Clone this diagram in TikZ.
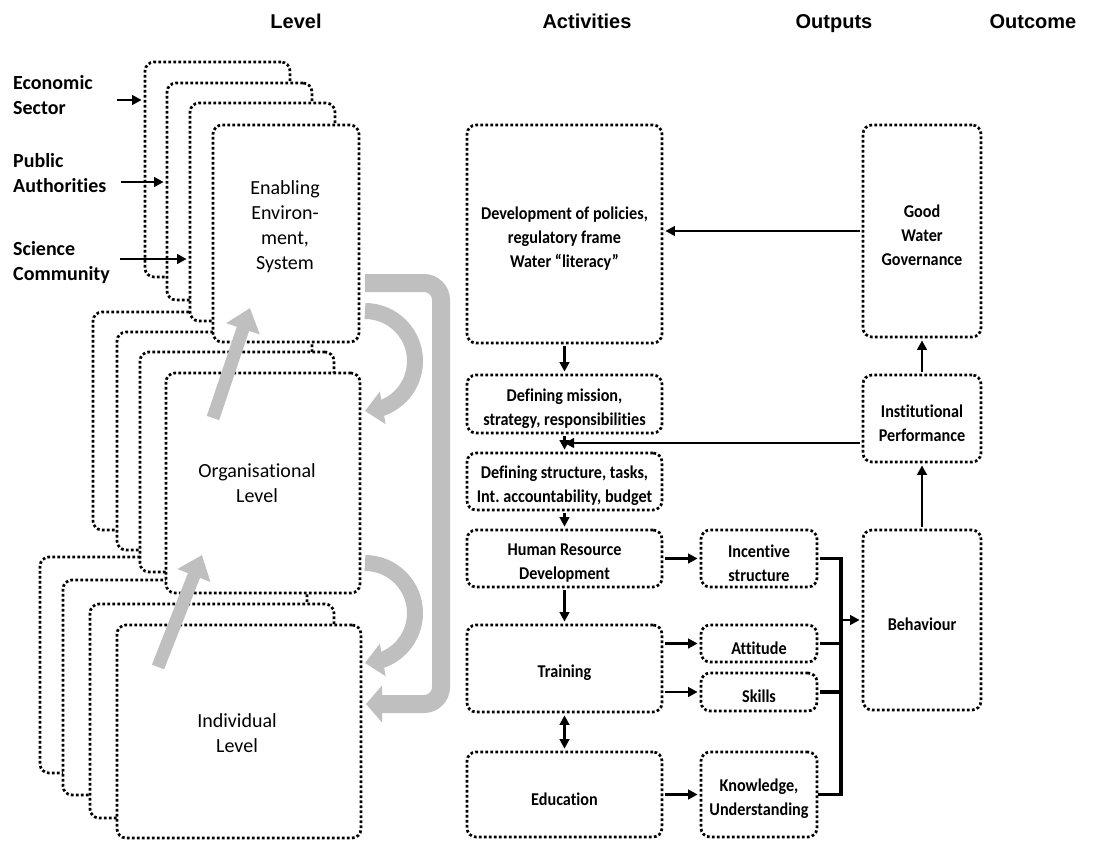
\documentclass[tikz,border=0pt]{standalone}
\usepackage{fontspec}
\setmainfont{Carlito}[Ligatures=NoCommon]
\newfontfamily\boxfont{Carlito}[FakeStretch=0.9, Ligatures=NoCommon]
\newfontfamily\headfont{Liberation Sans}
\usetikzlibrary{arrows.meta,fit,calc,bending}
\definecolor{flowgray}{RGB}{191,191,191}
\frenchspacing
\begin{document}
\begin{tikzpicture}[x=1pt,y=-1pt,
  dotbox/.style={draw=black, fill=white, line width=2.7pt, dash pattern=on 2.7pt off 2.3pt,
    rounded corners=9pt, inner sep=0pt, align=center},
  boxtext/.style={align=center, yshift=-4.5pt, inner sep=0pt, font=\boxfont\fontsize{18}{24}\selectfont\bfseries},
  act/.style={dotbox, label={[boxtext]center:{#1}}},
  lvl/.style={align=center, font=\fontsize{20}{25}\selectfont},
  side/.style={align=left, anchor=west, inner sep=0pt, font=\fontsize{20}{25}\selectfont\bfseries},
  head/.style={anchor=base, font=\headfont\bfseries\fontsize{20}{24}\selectfont},
  arr/.style={line width=2.5pt, shorten <=2pt, shorten >=2pt, -{Triangle[length=9.5pt,width=9.5pt]}},
  bus/.style={line width=3.5pt, shorten <=2pt},
  flow/.style={draw=flowgray, line width=#1},
]
\fill[white] (0,0) rectangle (1108,841);
\useasboundingbox (0,0) rectangle (1108,841);

% column headings
\node[head] (hLevel) at (296,28) {Level};
\node[head] (hAct) at (587,28) {Activities};
\node[head] (hOut) at (834,28) {Outputs};
\node[head] (hOutc) at (1033,28) {Outcome};

% individual level stack (back to front)
\node[dotbox, fit={(40,557) (284,773)}] (ind1) {};
\node[dotbox, fit={(63,580) (307,795)}] (ind2) {};
\node[dotbox, fit={(90,604) (334,818)}] (ind3) {};
\node[dotbox, fit={(117,625) (361,838)}] (ind4) {};
\node[lvl] (indtxt) at (237,733) {Individual\\Level};

% organisational level stack
\node[dotbox, fit={(93,312) (288,530)}] (org1) {};
\node[dotbox, fit={(117,332) (312,550)}] (org2) {};
\node[dotbox, fit={(140,352) (334,572)}] (org3) {};
\node[dotbox, fit={(166,373) (360,593)}] (org4) {};
\node[lvl] (orgtxt) at (257,483) {Organisational\\Level};

% enabling environment stack
\node[dotbox, fit={(145,62) (290,277)}] (env1) {};
\node[dotbox, fit={(167,83) (312,300)}] (env2) {};
\node[dotbox, fit={(190,103) (335,321)}] (env3) {};
\node[dotbox, fit={(213,125) (359,342)}] (env4) {};
\node[lvl] (envtxt) at (285,227) {Enabling\\Environ-\\ment,\\System};

% actors feeding the system level
\node[side] (econ) at (13,95) {Economic\\Sector};
\node[side] (pub) at (13,173) {Public\\Authorities};
\node[side] (sci) at (13,263) {Science\\Community};
\coordinate (econA) at (117,100);
\coordinate (pubA) at (121,182);
\coordinate (sciA) at (120,259);
\draw[arr, shorten <=0pt] (econA) -- (econA -| env1.west);
\draw[arr, shorten <=0pt] (pubA) -- (pubA -| env2.west);
\draw[arr, shorten <=0pt] (sciA) -- (sciA -| env3.west);

% grey flows between the levels
\coordinate (up1s) at (213,418);
\coordinate (up1e) at (250,308);
\coordinate (up2s) at (158,667);
\coordinate (up2e) at (202,555);
\draw[flow=13pt, -{Triangle[width=34pt,length=22pt]}] (up1s) -- (up1e);
\draw[flow=13pt, -{Triangle[width=34pt,length=22pt]}] (up2s) -- (up2e);
\draw[flow=16pt, -{Triangle[width=32pt,length=18pt]}] (365,311) arc[start angle=90, end angle=-90, radius=50pt];
\draw[flow=16pt, -{Triangle[width=32pt,length=18pt]}] (365,563) arc[start angle=90, end angle=-90, radius=50pt];
\draw[flow=18pt, rounded corners=17pt, -{Triangle[width=36pt,length=16pt]}]
  (365,283) -- (441,283) -- (441,704) -- (366,704);

% activities
\node[act={Development of policies,\\regulatory frame\\Water “literacy”}, minimum width=195, minimum height=218] (dev) at (564.5,234) {};
\node[act={Defining mission,\\strategy, responsibilities}, minimum width=195, minimum height=58] (mission) at (564.5,404) {};
\node[act={Defining structure, tasks,\\Int. accountability, budget}, minimum width=195, minimum height=57] (struct) at (564.5,481.5) {};
\node[act={Human Resource\\Development}, minimum width=195, minimum height=57] (hrd) at (564.5,558.5) {};
\node[act={Training}, minimum width=195, minimum height=87] (train) at (564.5,668.5) {};
\node[act={Education}, minimum width=195, minimum height=85] (edu) at (564.5,794.5) {};

% outputs
\node[act={Incentive\\structure}, minimum width=116, minimum height=57] (inc) at (759,558.5) {};
\node[act={Attitude}, minimum width=116, minimum height=37] (att) at (759,643.5) {};
\node[act={Skills}, minimum width=116, minimum height=38] (skl) at (759,692) {};
\node[act={Knowledge,\\Understanding}, minimum width=116, minimum height=85] (know) at (759,794.5) {};

% outcomes
\node[act={Good\\Water\\Governance}, minimum width=118, minimum height=212] (gwg) at (922,231) {};
\node[act={Institutional\\Performance}, minimum width=118, minimum height=87] (ip) at (922,418.5) {};
\node[act={Behaviour}, minimum width=118, minimum height=180] (beh) at (922,620) {};

% connectors
\draw[arr] (gwg.west) -- (gwg.west -| dev.east);
\draw[arr] (dev.south) -- (mission.north);
\draw[arr] (mission.south) -- (struct.north);
\coordinate (gap) at ($(mission.south)!.5!(struct.north)$);
\draw[arr, shorten >=0pt] (ip.west |- gap) -- (gap);
\draw[arr] (struct.south) -- (hrd.north);
\draw[arr] (hrd.south) -- (train.north);
\draw[arr, {Triangle[length=9.5pt,width=9.5pt]}-{Triangle[length=9.5pt,width=9.5pt]}] (train.south) -- (edu.north);
\draw[arr] (hrd.east) -- (inc.west);
\draw[arr] (train.east |- att.west) -- (att.west);
\draw[arr] (train.east |- skl.west) -- (skl.west);
\draw[arr] (edu.east) -- (know.west);

\coordinate (busx) at (841,0);
\draw[bus] (inc.east) -- (inc.east -| busx) -- (know.east -| busx) -- (know.east);
\draw[bus] (att.east) -- (att.east -| busx);
\draw[bus] (skl.east) -- (skl.east -| busx);
\draw[arr, shorten <=0pt] (beh.west -| busx) -- (beh.west);
\draw[arr] (beh.north) -- (ip.south);
\draw[arr] (ip.north) -- (gwg.south);
\end{tikzpicture}
\end{document}
